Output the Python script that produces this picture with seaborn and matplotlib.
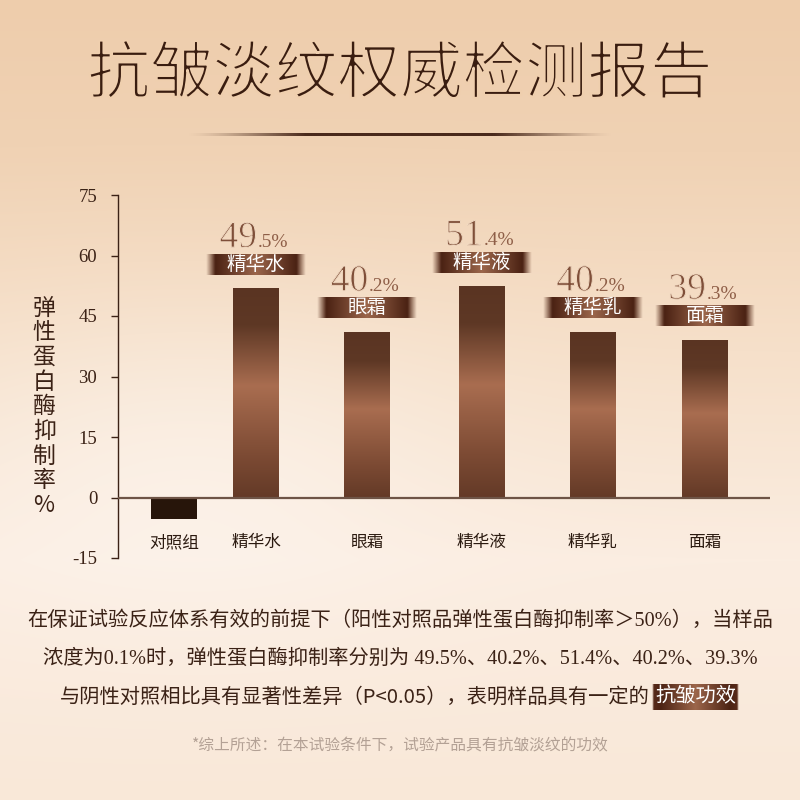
import numpy as np
import matplotlib
matplotlib.use("Agg")
import matplotlib.pyplot as plt
import matplotlib.patheffects as pe
import seaborn as sns
from matplotlib.colors import to_rgb

# ====== DATA ======
categories = ["对照组", "精华水", "眼霜", "精华液", "精华乳", "面霜"]
bar_values = [-5.3, 51.9, 41.1, 52.4, 41.1, 39.1]
label_whole = ["", "49", "40", "51", "40", "39"]
label_frac = ["", ".5%", ".2%", ".4%", ".2%", ".3%"]
slot_pos = [0, 0.73, 1.72, 2.74, 3.73, 4.73]
y_ticks = [-15, 0, 15, 30, 45, 60, 75]

title = "抗皱淡纹权威检测报告"
y_label = "弹性蛋白酶抑制率%"
note_1 = "在保证试验反应体系有效的前提下（阳性对照品弹性蛋白酶抑制率＞50%），当样品"
note_2 = "浓度为0.1%时，弹性蛋白酶抑制率分别为 49.5%、40.2%、51.4%、40.2%、39.3%"
note_3 = "与阴性对照相比具有显著性差异（P<0.05），表明样品具有一定的"
note_3_tag = "抗皱功效"
footnote = "*综上所述：在本试验条件下，试验产品具有抗皱淡纹的功效"

# ====== STYLE ======
sns.set_theme(style="white")
CJK = ["Noto Sans CJK SC", "DejaVu Sans"]
SERIF_CJK = ["Liberation Serif", "Noto Sans CJK SC"]
plt.rcParams["font.family"] = CJK
DARK = "#3b2216"
W, H = 800, 800


def ramp(stops, cols, n):
    t = np.linspace(0, 1, n)
    rgb = np.array([to_rgb(c) for c in cols])
    return np.stack([np.interp(t, stops, rgb[:, k]) for k in range(3)], axis=1)


def ribbon(n=240, rows=24, fade=0.09):
    # horizontal brown ribbon, dark near the ends, lighter middle, soft edges
    line = ramp([0, 0.1, 0.5, 0.9, 1.0],
                ["#5a2c1a", "#4c2314", "#9c664b", "#4c2314", "#5a2c1a"], n)
    u = np.linspace(0, 1, n)
    alpha = np.clip(np.minimum(u, 1 - u) / fade, 0, 1)
    img = np.zeros((rows, n, 4))
    img[:, :, :3] = line[None, :, :]
    img[:, :, 3] = alpha[None, :]
    return img


fig = plt.figure(figsize=(8, 8), dpi=100)

# ====== BACKGROUND ======
bg = fig.add_axes([0, 0, 1, 1], zorder=-10)
bg.set_xlim(0, W)
bg.set_ylim(H, 0)
bg.axis("off")
col = ramp([0, 0.19, 0.44, 0.7, 1.0],
           ["#eecdac", "#f0d2b4", "#f6e0ca", "#fbede1", "#f9e8d8"], H)
img = np.repeat(col[:, None, :], W, axis=1)
yy, xx = np.mgrid[0:H, 0:W]
glow = np.exp(-(((xx - 190) / 260.0) ** 2 + ((yy - 470) / 160.0) ** 2)) * 0.35
img = img + (1 - img) * glow[:, :, None]
bg.imshow(img, extent=[0, W, H, 0], aspect="auto", zorder=0)

# line under the title
strip = np.zeros((3, 300, 4))
strip[:, :, :3] = to_rgb("#4a2a1c")
u = np.linspace(0, 1, 300)
strip[:, :, 3] = np.clip(np.sin(np.pi * u) * 1.3, 0, 1) ** 1.5
bg.imshow(strip, extent=[186, 614, 136.5, 133.5], aspect="auto", zorder=1)

# ====== CHART ======
ax_box = [118, 195, 770, 558]
ax = fig.add_axes([ax_box[0] / W, 1 - ax_box[3] / H,
                   (ax_box[2] - ax_box[0]) / W, (ax_box[3] - ax_box[1]) / H])
ax.patch.set_alpha(0)

xmin, xmax = -0.5, 5.31
ymin, ymax = -15, 75
px_x = (ax_box[2] - ax_box[0]) / (xmax - xmin)
px_y = (ax_box[3] - ax_box[1]) / (ymax - ymin)

bar_w = 46 / px_x
sns.barplot(x=slot_pos, y=bar_values, native_scale=True, orient="x",
            width=bar_w / np.min(np.diff(slot_pos)), errorbar=None,
            color="#6b3f2a", saturation=1, ax=ax, zorder=2)

bar_grad = ramp([0, 0.18, 0.47, 0.8, 1.0],
                ["#5a3422", "#5e3825", "#a96d50", "#7d4b34", "#643a27"], 200)
bar_img = bar_grad[:, None, :]

for patch, v in zip(ax.patches, bar_values):
    patch.set_edgecolor("none")
    if v < 0:
        patch.set_facecolor("#27150a")
        continue
    x0, y0 = patch.get_x(), patch.get_y()
    w, h = patch.get_width(), patch.get_height()
    patch.set_facecolor("none")
    im = ax.imshow(bar_img, extent=[x0, x0 + w, y0, y0 + h], origin="upper",
                   aspect="auto", zorder=2)
    im.set_clip_path(patch)

ax.axhline(0, color="#6e5446", lw=1.6, zorder=3)

# value labels + ribbons
thin = [pe.Normal(), pe.Stroke(linewidth=0.7, foreground="#f3dbc3")]
for x, v, cat, whole, frac in zip(slot_pos, bar_values, categories,
                                  label_whole, label_frac):
    if v < 0:
        continue
    cy = v + 24 / px_y
    hw, hh = 50 / px_x, 10.5 / px_y
    ax.imshow(ribbon(), extent=[x - hw, x + hw, cy - hh, cy + hh],
              aspect="auto", zorder=4)
    ax.text(x, cy, cat, ha="center", va="center", fontsize=14,
            color="white", zorder=5)
    ax.annotate(whole, xy=(x, v), xytext=(1, 41), textcoords="offset pixels",
                ha="right", va="baseline", fontsize=27,
                family="Liberation Serif", color="#7f4f39", zorder=5,
                path_effects=thin)
    ax.annotate(frac, xy=(x, v), xytext=(2, 41), textcoords="offset pixels",
                ha="left", va="baseline", fontsize=14,
                family="Liberation Serif", color="#8e5e47", zorder=5)

# category labels under the zero line
for x, cat in zip(slot_pos, categories):
    ax.text(x, -11.2, cat, ha="center", va="center", fontsize=12,
            color="#2b1a10")

ax.set_xlim(xmin, xmax)
ax.set_ylim(ymin, ymax)
ax.set_xticks([])
ax.set_yticks(y_ticks)
ax.set_yticklabels([str(t) for t in y_ticks], family="Liberation Serif",
                   fontsize=13.5, color=DARK)
ax.tick_params(axis="y", left=True, length=5, width=1, color=DARK, pad=10)
ax.set_xlabel("")
ax.set_ylabel("")
for side in ["top", "right", "bottom"]:
    ax.spines[side].set_visible(False)
ax.spines["left"].set_color(DARK)
ax.spines["left"].set_linewidth(1)

# vertical axis title, one character per line
for i, ch in enumerate(y_label):
    fig.text(44 / W, 1 - (308 + i * 24.7) / H, ch, ha="center", va="center",
             fontsize=16.5, color=DARK)

# ====== TEXT ======
fig.text(0.5, 1 - 75 / H, title, ha="center", va="center", fontsize=45,
         color="#3a1d10",
         path_effects=[pe.Normal(), pe.Stroke(linewidth=1.6, foreground="#efcfae")])

fig.text(0.5, 1 - 621 / H, note_1, ha="center", va="center", fontsize=14.6,
         family=SERIF_CJK, color=DARK)
fig.text(0.5, 1 - 659 / H, note_2, ha="center", va="center", fontsize=14.6,
         family=SERIF_CJK, color=DARK)
fig.text(650 / W, 1 - 697 / H, note_3, ha="right", va="center", fontsize=14.6,
         color=DARK)
bg.imshow(ribbon(n=200, rows=20, fade=0.02), extent=[652, 739, 710, 684],
          aspect="auto", zorder=2)
fig.text(695.5 / W, 1 - 697 / H, note_3_tag, ha="center", va="center",
         fontsize=14.6, color="white")

fig.text(0.5, 1 - 746 / H, footnote, ha="center", va="center", fontsize=11.3,
         color="#b3a195")

fig.savefig("out.png", dpi=100)
